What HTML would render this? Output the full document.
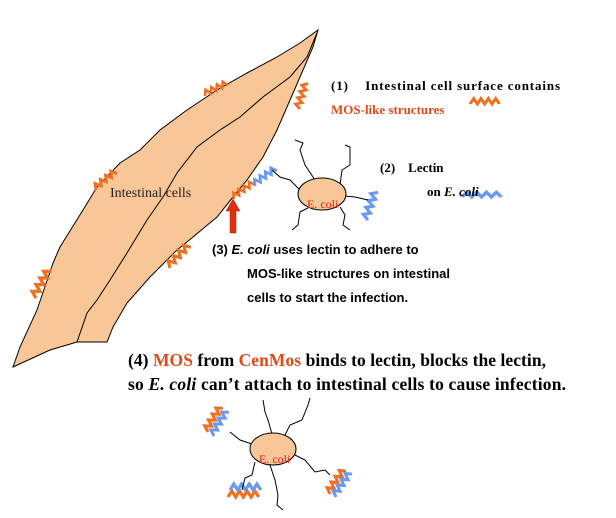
<!DOCTYPE html>
<html><head><meta charset="utf-8"><style>
html,body{margin:0;padding:0;background:#fff;width:616px;height:518px;overflow:hidden}
svg{display:block}
</style></head><body>
<svg width="616" height="518" viewBox="0 0 616 518" xmlns="http://www.w3.org/2000/svg">
<defs>
<polyline id="zz" points="0,0 3.5,-6 7,0 10.5,-6 14,0 17.5,-6 21,0 24.5,-6 28,0" fill="none" stroke-width="3" stroke-linejoin="miter"/>
</defs>
<path d="M13,367 L20,347 L37,310 L53,263 L60,247 L83,210 L97,187 L120,163 L140,150 L160,130 L187,110 L217,90 L247,73 L277,57 L300,43 L318,30 L313,47 L300,77 L287,107 L277,130 L263,157 L247,180 L233,197 L217,217 L193,237 L177,250 L150,277 L127,303 L113,327 L107,342 L77,342 L50,350 Z" fill="#f9c697" stroke="#000" stroke-width="1"/>
<path d="M77,342 L87,313 L97,300 L110,280 L127,253 L147,220 L163,197 L177,173 L197,147 L220,130 L240,117 L263,97 L290,77 L307,57 L317,33" fill="none" stroke="#000" stroke-width="1"/>
<text x="110" y="197" font-family="Liberation Serif,serif" font-size="14" fill="#222">Intestinal cells</text>
<g stroke="#f07020">
<use href="#zz" transform="translate(205,96) rotate(-25) scale(0.9)"/>
<use href="#zz" transform="translate(300,109) rotate(-72) scale(0.95)"/>
<use href="#zz" transform="translate(96,190) rotate(-38) scale(0.95)"/>
<use href="#zz" transform="translate(36,298) rotate(-60) scale(1.1)"/>
<use href="#zz" transform="translate(170,268) rotate(-45) scale(1.05)"/>
<use href="#zz" transform="translate(234,199) rotate(-35) scale(0.9)"/>
<use href="#zz" transform="translate(470,104) scale(1.05,0.9)"/>
<use href="#zz" transform="translate(208,432) rotate(-58)"/>
<use href="#zz" transform="translate(330,494) rotate(-55)"/>
<use href="#zz" transform="translate(228,497) scale(1.1,1)"/>
</g>
<g stroke="#6a9af0">
<use href="#zz" transform="translate(255,186) rotate(-35) scale(0.95)"/>
<use href="#zz" transform="translate(368,220) rotate(-70) scale(1.05)"/>
<use href="#zz" transform="translate(462,197) scale(1.4,0.8)"/>
<use href="#zz" transform="translate(214,436) rotate(-58)"/>
<use href="#zz" transform="translate(336,497) rotate(-55)"/>
<use href="#zz" transform="translate(230,490) scale(1.1,1)"/>
</g>
<path d="M230,233 L230,211 L226,211 L233,199 L240,211 L236,211 L236,233 Z" fill="#e03010" stroke="#a02000" stroke-width="0.5"/>
<g fill="none" stroke="#000" stroke-width="1">
<path d="M300,190 L290,180 L280,177 L272,170"/>
<path d="M315,180 L305,165 L300,150 L303,143 L295,140"/>
<path d="M340,185 L342,170 L350,165 L350,147 L345,145"/>
<path d="M345,196 L355,197 L368,200"/>
<path d="M340,207 L345,215 L343,225 L350,230"/>
<path d="M308,208 L300,212 L298,225 L292,230"/>
</g>
<ellipse cx="322" cy="194" rx="24" ry="16" fill="#f9c697" stroke="#000"/>
<text x="307" y="208" font-family="Liberation Serif,serif" font-size="12" fill="#e02010">E. coli</text>
<g fill="none" stroke="#000" stroke-width="1">
<path d="M272,434 L268,420 L265,412 L263,400"/>
<path d="M284,437 L290,425 L302,420 L308,405 L310,398"/>
<path d="M252,444 L240,440 L230,432"/>
<path d="M295,455 L305,460 L315,472 L325,470 L330,475"/>
<path d="M270,465 L275,480 L278,495 L277,505 L283,510"/>
<path d="M255,462 L252,475 L245,478 L242,490"/>
</g>
<ellipse cx="273" cy="449" rx="23" ry="16" fill="#f9c697" stroke="#000"/>
<text x="259" y="463" font-family="Liberation Serif,serif" font-size="12" fill="#e02010">E. coli</text>
<g font-family="Liberation Serif,serif" font-weight="bold" font-size="13">
<text x="331" y="90" fill="#000" textLength="229">(1)&#160;&#160;&#160;&#160;Intestinal cell surface contains</text>
<text x="331" y="114" fill="#e04a18">MOS-like structures</text>
<text x="380" y="172" fill="#000">(2)&#160;&#160;&#160;&#160;Lectin</text>
<text x="427" y="196" fill="#000">on <tspan font-style="italic">E. coli</tspan></text>
</g>
<g font-family="Liberation Sans,sans-serif" font-weight="bold" font-size="13" fill="#000">
<text x="212" y="254">(3) <tspan font-style="italic">E. coli</tspan> uses lectin to adhere to</text>
<text x="247" y="278">MOS-like structures on intestinal</text>
<text x="247" y="302">cells to start the infection.</text>
</g>
<g font-family="Liberation Serif,serif" font-weight="bold" font-size="17.5" fill="#000">
<text x="128" y="366" textLength="418">(4) <tspan fill="#e04a18">MOS</tspan> from <tspan fill="#e04a18">CenMos</tspan> binds to lectin, blocks the lectin,</text>
<text x="128" y="390" textLength="438">so <tspan font-style="italic">E. coli</tspan> can’t attach to intestinal cells to cause infection.</text>
</g>
</svg>
</body></html>
